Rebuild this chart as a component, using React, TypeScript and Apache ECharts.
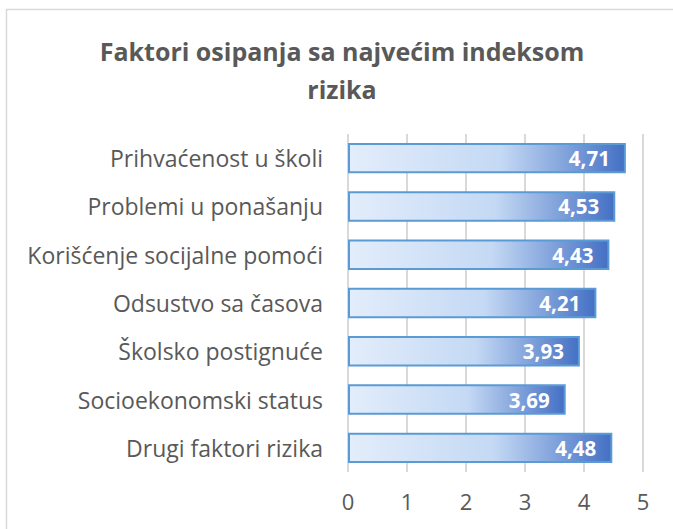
import React, { useEffect, useRef } from "react";
import * as echarts from "echarts";

const categories = [
  "Prihvaćenost u školi",
  "Problemi u ponašanju",
  "Korišćenje socijalne pomoći",
  "Odsustvo sa časova",
  "Školsko postignuće",
  "Socioekonomski status",
  "Drugi faktori rizika",
];
const values = [4.71, 4.53, 4.43, 4.21, 3.93, 3.69, 4.48];
const axisTicks = [0, 1, 2, 3, 4, 5];
const titleText = "Faktori osipanja sa najvećim indeksom\nrizika";

export default function App() {
  const ref = useRef<HTMLDivElement>(null);
  useEffect(() => {
    if (!ref.current) return;
    const chart = echarts.init(ref.current, null, { renderer: "svg" });
    const font = "'Open Sans', sans-serif";
    chart.setOption({
      animation: false,
      backgroundColor: "#ffffff",
      textStyle: { fontFamily: font },
      title: {
        text: titleText,
        left: 337,
        top: 27,
        textAlign: "center",
        textStyle: {
          fontFamily: font,
          fontSize: 25,
          fontWeight: "bold",
          color: "#595959",
          lineHeight: 38,
        },
      },
      graphic: [
        {
          type: "rect",
          shape: { x: 6.5, y: 9.5, width: 720, height: 620 },
          style: { fill: "none", stroke: "#d9d9d9", lineWidth: 1.5 },
          silent: true,
          z: 0,
        },
      ],
      grid: { left: 348, right: 30, top: 134, bottom: 57, containLabel: false },
      xAxis: {
        type: "value",
        min: axisTicks[0],
        max: axisTicks[axisTicks.length - 1],
        interval: 1,
        axisLine: { show: false },
        axisTick: { show: false },
        splitLine: { show: true, lineStyle: { color: "#d9d9d9", width: 2 } },
        axisLabel: { color: "#595959", fontSize: 22, margin: 18, fontFamily: font },
      },
      yAxis: {
        type: "category",
        data: categories,
        inverse: true,
        axisLine: { show: false },
        axisTick: { show: false },
        splitLine: { show: false },
        axisLabel: { color: "#595959", fontSize: 23, margin: 25, fontFamily: font },
      },
      series: [
        {
          type: "bar",
          data: values,
          barCategoryGap: "37%",
          itemStyle: {
            color: new echarts.graphic.LinearGradient(0, 0, 1, 0, [
              { offset: 0, color: "#e3edfb" },
              { offset: 0.55, color: "#c4d9f4" },
              { offset: 1, color: "#4470c4" },
            ]),
            borderColor: "#5b9bd5",
            borderWidth: 2,
          },
          label: {
            show: true,
            position: "insideRight",
            distance: 16,
            color: "#ffffff",
            fontWeight: "bold",
            fontSize: 20.5,
            fontFamily: font,
            formatter: (p: any) => Number(p.value).toFixed(2).replace(".", ","),
          },
        },
      ],
    });
    return () => chart.dispose();
  }, []);
  return (
    <div
      ref={ref}
      style={{ position: "fixed", left: 0, top: 0, width: 673, height: 529 }}
    />
  );
}
